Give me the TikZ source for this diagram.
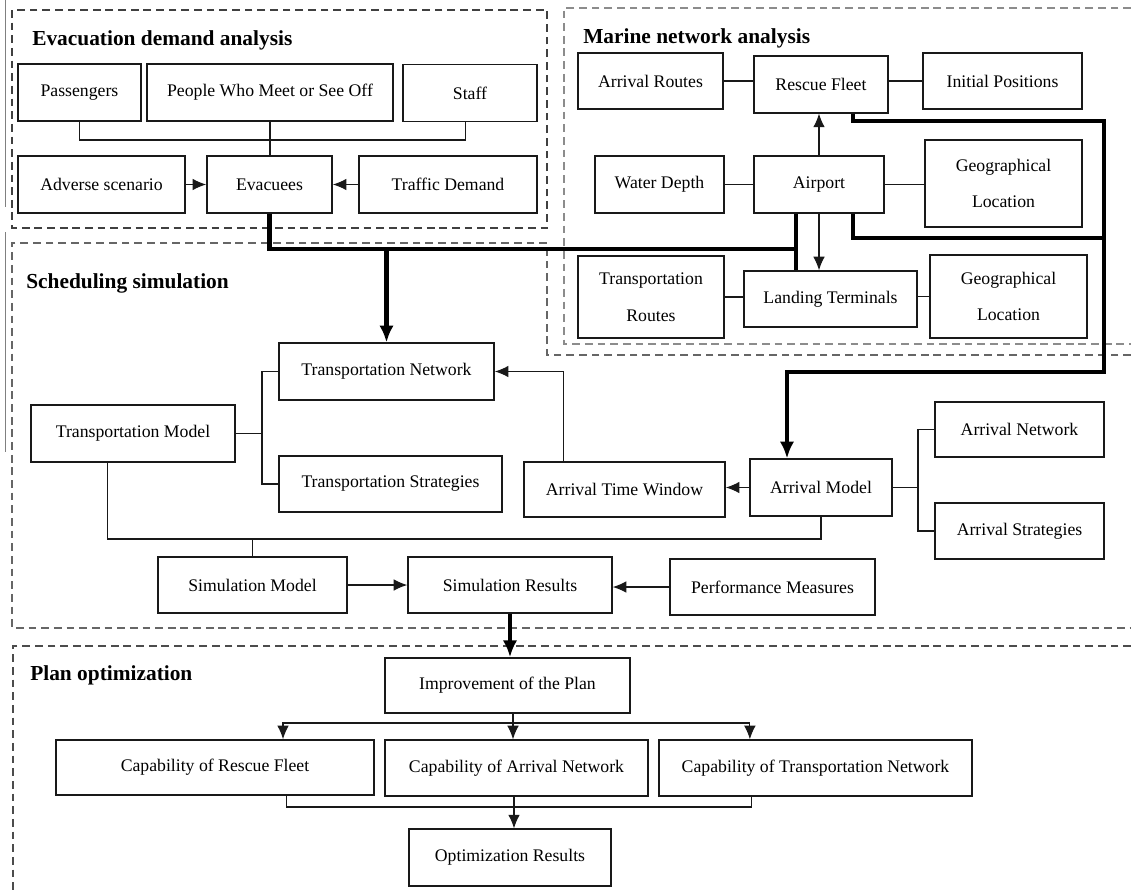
\documentclass[tikz,border=0pt]{standalone}
\usepackage{fontspec}
\setmainfont{Liberation Serif}
\usetikzlibrary{arrows.meta}

\begin{document}
\begin{tikzpicture}[x=0.025cm, y=-0.025cm,
    box/.style={draw=black!90, line width=1pt, inner sep=0pt, minimum height=1.42cm,
        align=center, font=\fontsize{12.6}{15}\selectfont},
    link/.style={line width=0.8pt, black!90},
    arr/.style={link, -{Latex[length=3.4mm, width=2.9mm]}},
    bold/.style={line width=3.2pt},
    boldarr/.style={bold, -{Latex[length=4.2mm, width=3.6mm]}},
    frame/.style={dash pattern=on 5.5pt off 3.5pt, line width=1.1pt},
    title/.style={anchor=base west, inner sep=0pt, font=\bfseries\fontsize{15.2}{18}\selectfont}]
    \useasboundingbox (0,0) rectangle (1131,894);

    % 1. Dashed frames of the four stages
    \draw[frame, black!75] (12,10) rectangle (547,228);
    \draw[frame, black!45] (1131,8) -- (564,8) -- (564,344) -- (1131,344);
    \draw[frame, black!60] (1131,355) -- (547,355) -- (547,243) -- (12,243) -- (12,628) -- (1131,628);
    \draw[frame, black!70] (1131,646) -- (13,646) -- (13,894);
    \draw[black!50, line width=0.6pt] (5,0) -- (5,207) (5,232) -- (5,452);

    \node[title] (tEvac) at (32,45) {Evacuation demand analysis};
    \node[title] (tMarine) at (583,43) {Marine network analysis};
    \node[title] (tSched) at (26,288) {Scheduling simulation};
    \node[title] (tPlan) at (30,680) {Plan optimization};

    % 2. Evacuation demand analysis
    \node[box, minimum width=3.08cm] (pass) at (79.5,92.5) {Passengers};
    \node[box, minimum width=6.15cm] (people) at (270,92.5) {People Who Meet or See Off};
    \node[box, minimum width=3.35cm] (staff) at (470,93) {Staff};
    \node[box, minimum width=4.18cm] (adverse) at (101.5,184.5) {Adverse scenario};
    \node[box, minimum width=3.13cm] (evac) at (269.5,184.5) {Evacuees};
    \node[box, minimum width=4.45cm] (traffic) at (448,184.5) {Traffic Demand};

    \coordinate (dj) at (270,140);
    \draw[link] (pass.south) |- (dj) -| ([xshift=-0.12cm]staff.south);
    \draw[link] (people.south) -- (people.south |- evac.north);
    \draw[arr] (adverse) -- (evac);
    \draw[arr] (traffic) -- (evac);

    % 3. Marine network analysis
    \node[box, minimum width=3.63cm, minimum height=1.4cm] (routes) at (650.5,81) {Arrival Routes};
    \node[box, minimum width=3.35cm] (fleet) at (821,84.5) {Rescue Fleet};
    \node[box, minimum width=3.98cm, minimum height=1.4cm] (initpos) at (1002.5,81) {Initial Positions};
    \node[box, minimum width=3.23cm] (depth) at (659.5,184.5) {Water Depth};
    \node[box, minimum width=3.25cm] (airport) at (819,184.5) {Airport};
    \node[box, minimum width=3.93cm, minimum height=2.18cm] (geoA) at (1003.5,183.5) {Geographical\\[11pt]Location};
    \node[box, minimum width=3.65cm, minimum height=2.05cm] (troutes) at (651,297) {Transportation\\[11pt]Routes};
    \node[box, minimum width=4.33cm, minimum height=1.4cm] (landing) at (830.5,299) {Landing Terminals};
    \node[box, minimum width=3.93cm, minimum height=2.08cm] (geoB) at (1008.5,296.5) {Geographical\\[11pt]Location};

    \draw[link] (routes.east) -- (routes.east -| fleet.west);
    \draw[link] (initpos.west -| fleet.east) -- (initpos.west);
    \draw[link] (depth) -- (airport);
    \draw[link] (airport.east) -- (airport.east -| geoA.west);
    \draw[arr] (airport.north) -- (airport.north |- fleet.south);
    \draw[link] (troutes.east) -- (troutes.east -| landing.west);
    \draw[link] (landing.east |- geoB.west) -- (geoB.west);
    \draw[arr] (airport.south) -- (airport.south |- landing.north);

    % 4. Scheduling simulation
    \node[box, minimum width=5.38cm] (tnet) at (386.5,371.5) {Transportation Network};
    \node[box, minimum width=5.1cm] (tmodel) at (133,433.5) {Transportation Model};
    \node[box, minimum width=5.58cm, minimum height=1.4cm] (tstrat) at (390.5,484) {Transportation Strategies};
    \node[box, minimum width=5.03cm, minimum height=1.38cm] (atw) at (624.5,489.5) {Arrival Time Window};
    \node[box, minimum width=3.55cm] (amodel) at (821,487.5) {Arrival Model};
    \node[box, minimum width=4.23cm, minimum height=1.38cm] (anet) at (1019.5,429.5) {Arrival Network};
    \node[box, minimum width=4.23cm, minimum height=1.4cm] (astrat) at (1019.5,531) {Arrival Strategies};
    \node[box, minimum width=4.73cm, minimum height=1.4cm] (simmodel) at (252.5,585) {Simulation Model};
    \node[box, minimum width=5.1cm, minimum height=1.4cm] (simres) at (510,585) {Simulation Results};
    \node[box, minimum width=5.13cm, minimum height=1.4cm] (perf) at (772.5,587) {Performance Measures};

    \coordinate (tj) at (262,433.5);
    \draw[link] (tmodel.east) -- (tj);
    \draw[link] (tnet.west) -| (tj) |- (tstrat.west);
    \coordinate (aj) at (918,487.5);
    \draw[link] (amodel.east) -- (aj);
    \draw[link] (anet.west) -| (aj) |- (astrat.west);
    \draw[arr] (amodel.west) -- (amodel.west -| atw.east);
    \draw[arr] (atw.north west) ++(40,0) |- (tnet.east);
    \coordinate (bus) at (252.5,539);
    \draw[link] (tmodel.south west) ++(77,0) |- (bus) -| (amodel.south);
    \draw[link] (bus) -- (simmodel.north);
    \draw[arr] (simmodel) -- (simres);
    \draw[arr] (perf.west) -- (perf.west -| simres.east);

    % 5. Heavy links between the stages
    \coordinate (hub) at (796,249);
    \draw[bold] (evac.south) |- (hub);
    \draw[bold] (airport.south -| hub) -- (landing.north -| hub);
    \draw[boldarr] (tnet.north |- hub) -- (tnet.north);
    \coordinate (ne) at (1104,121);
    \coordinate (me) at (1104,238);
    \coordinate (se) at (1104,372);
    \draw[boldarr] ([xshift=0.8cm]fleet.south) |- (ne) -- (se) -| ([xshift=-0.85cm]amodel.north);
    \draw[bold] ([xshift=0.85cm]airport.south) |- (me);

    % 6. Plan optimization
    \node[box, minimum width=6.13cm, minimum height=1.38cm] (improve) at (507.5,685.5) {Improvement of the Plan};
    \node[box, minimum width=7.95cm, minimum height=1.38cm] (caprf) at (215,767.5) {Capability of Rescue Fleet};
    \node[box, minimum width=6.58cm, minimum height=1.4cm] (capan) at (516.5,768) {Capability of Arrival Network};
    \node[box, minimum width=7.83cm, minimum height=1.4cm] (captn) at (815.5,768) {Capability of Transportation Network};
    \node[box, minimum width=5.05cm] (optres) at (510,857.5) {Optimization Results};

    \draw[boldarr] (simres.south) -- (simres.south |- improve.north);
    \coordinate (br) at (513,723);
    \draw[link] (improve.south -| br) -- (br);
    \draw[arr] (br) -| ([xshift=1.7cm]caprf.north);
    \draw[arr] (br) -- (br |- capan.north);
    \draw[arr] (br) -| ([xshift=-1.64cm]captn.north);
    \coordinate (mr) at (514,807);
    \draw[link] ([xshift=1.78cm]caprf.south) |- (mr) -| ([xshift=-1.59cm]captn.south);
    \draw[arr] (capan.south -| mr) -- (mr |- optres.north);
\end{tikzpicture}
\end{document}
